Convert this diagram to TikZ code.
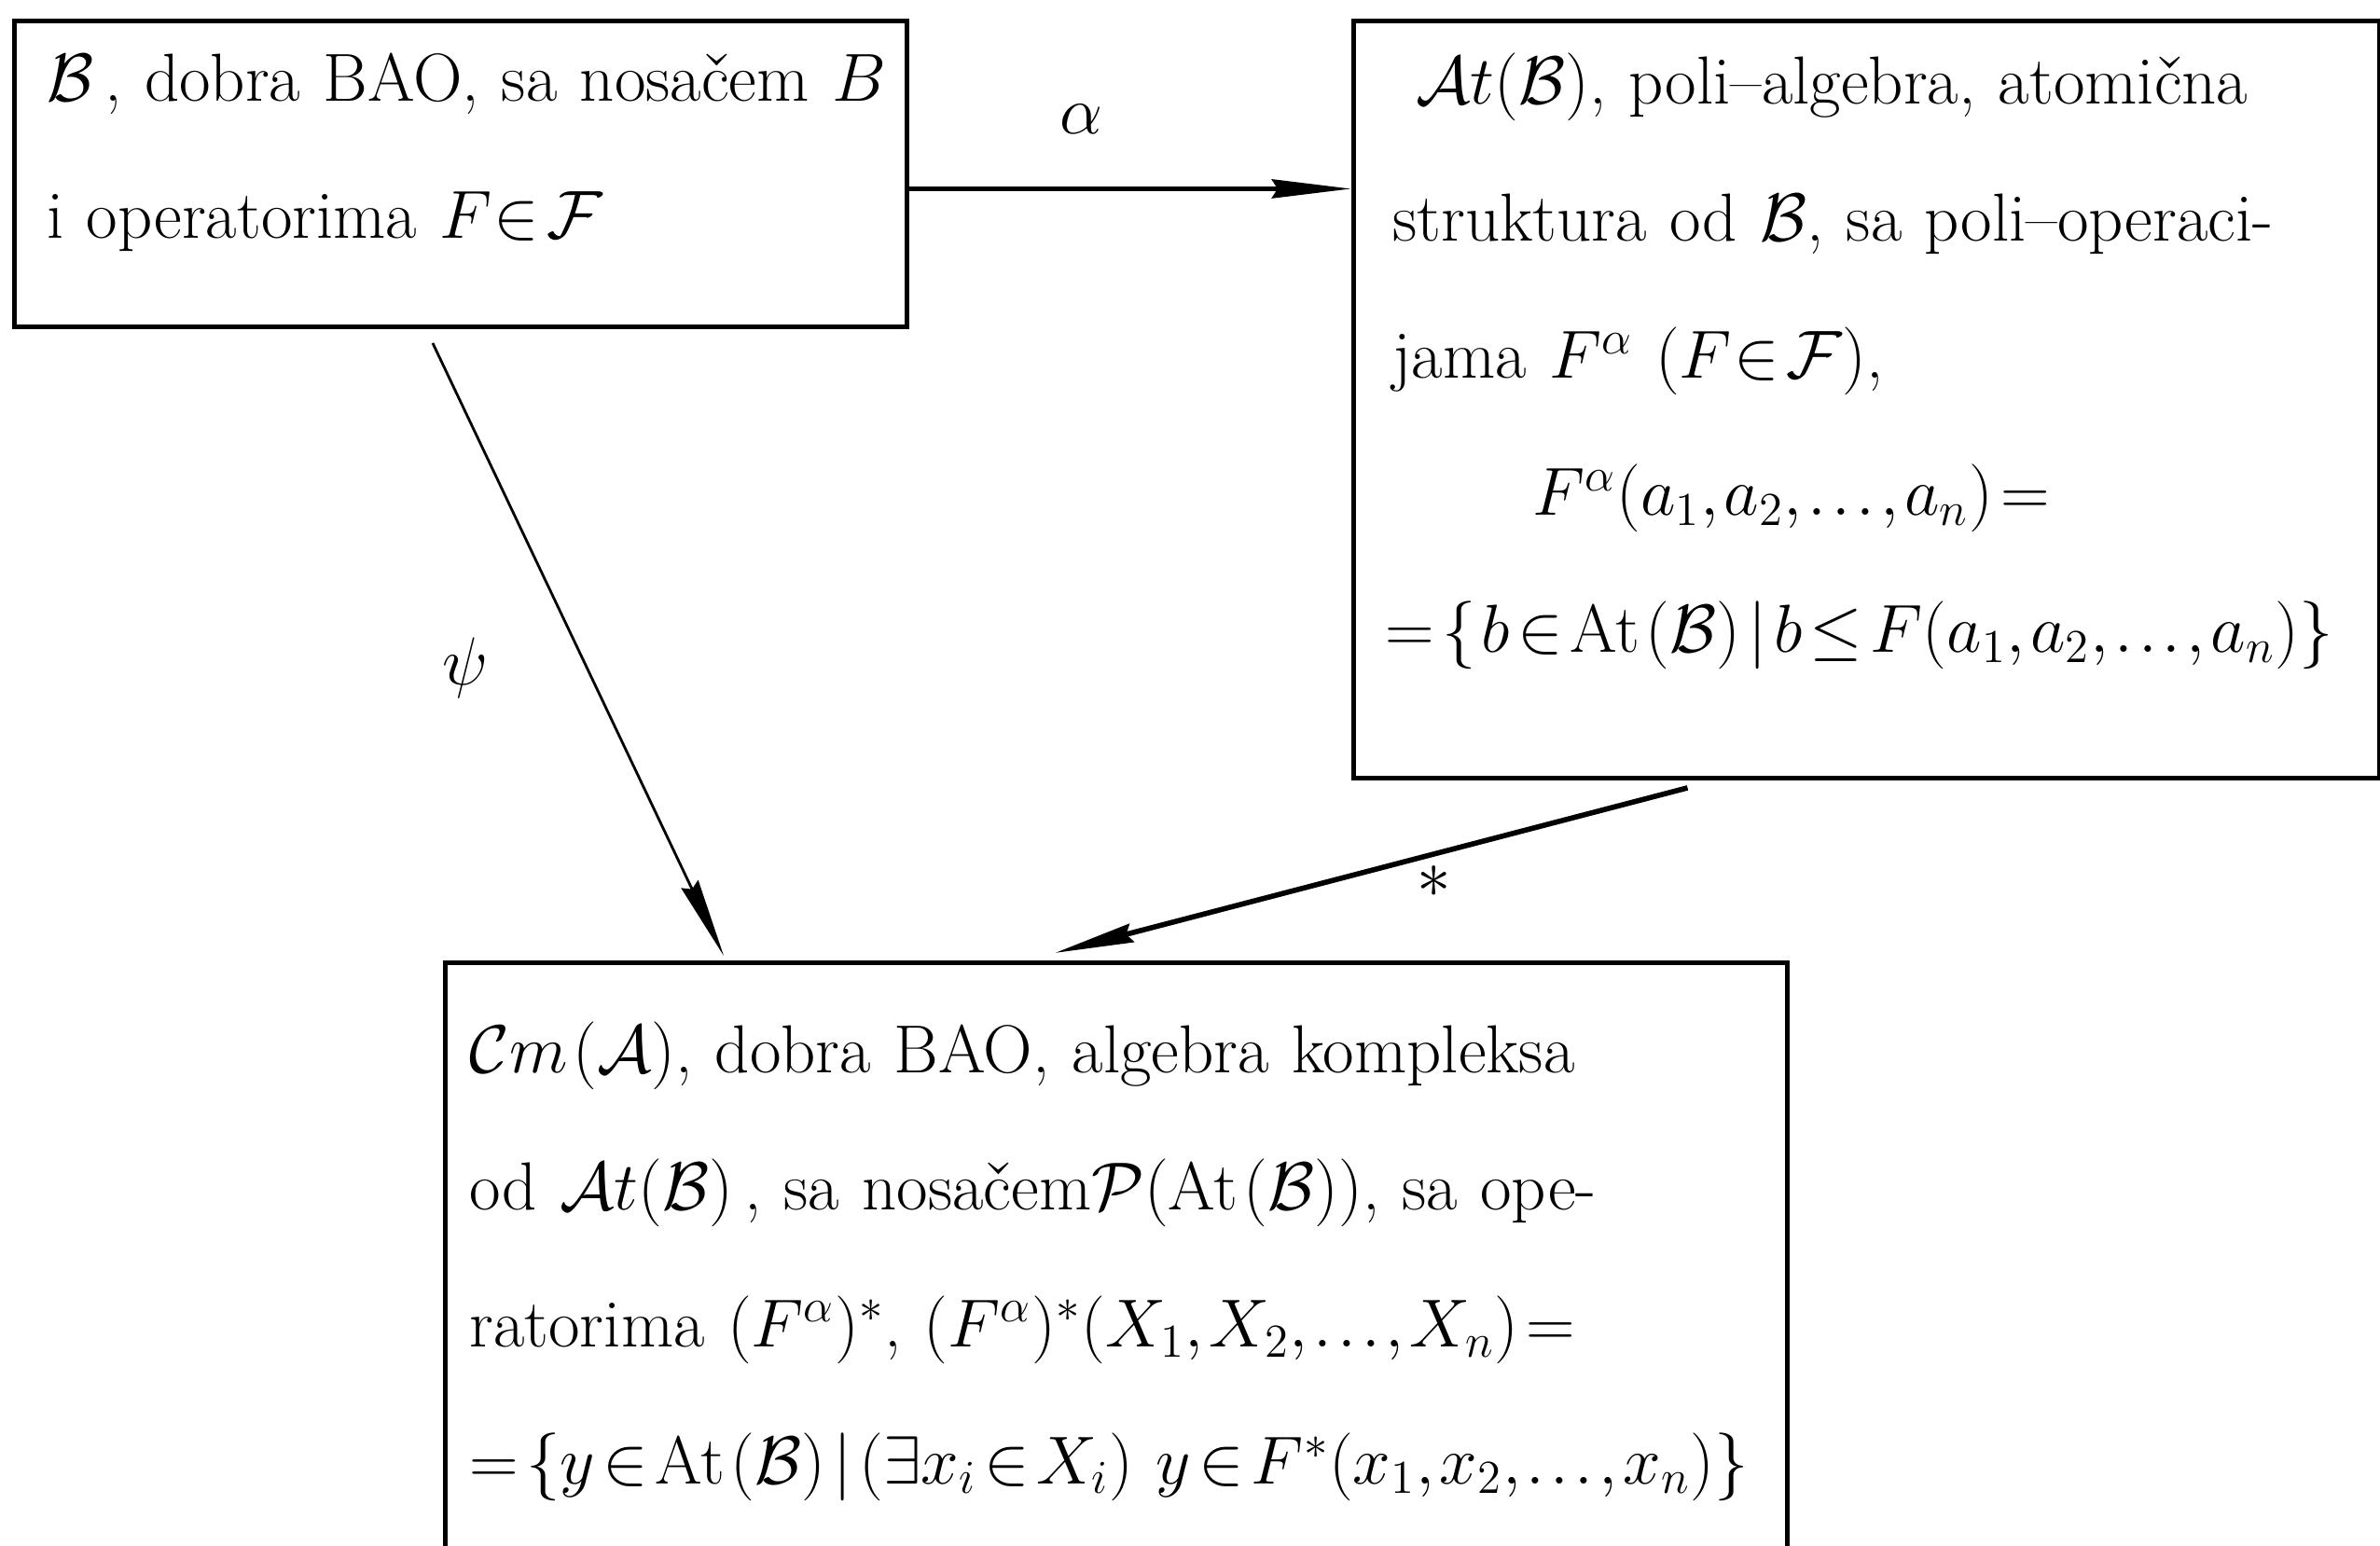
\documentclass[tikz,border=0pt]{standalone}
\usepackage{amsmath}
\usepackage{amssymb}
\usepackage{tikz}
\usetikzlibrary{arrows.meta,positioning}
\newcommand{\cB}{\mathcal{B}}
\newcommand{\sF}{\mathcal{F}}
\newcommand{\cAt}{\mathcal{A}t}
\newcommand{\lift}[1]{\par\vspace*{#1}\hrule height 0pt}

\begin{document}
\begin{tikzpicture}[
  font={\fontsize{20.74}{41.8}\selectfont\thickmuskip=2mu plus 2mu\medmuskip=1mu plus 1mu\thinmuskip=1.5mu\relax},
  box/.style={rectangle, draw=black, line width=1.4pt, anchor=north west,
    align=left, inner ysep=0pt},
  arr/.style={-{Stealth[length=8.5mm, width=2mm, inset=0.6mm]}, line width=1.6pt},
  thinarr/.style={arr, line width=0.8pt},
]
\useasboundingbox (0,0) rectangle (25.52,-16.57);
\node[box, inner xsep=1.6mm, text width=92.5mm, minimum height=32.8mm] (bao) at (0.13,-0.20)
  {\hspace*{1.9mm}$\cB$\,, dobra BAO, sa nosačem $B$\\
   \hspace*{1.9mm}i operatorima $F\!\in\sF$\lift{4.6mm}};
\node[box, inner xsep=3mm, text width=104mm, minimum height=81.2mm] (atstr) at (14.49,-0.20)
  {\hspace*{3.7mm}$\cAt(\cB)$, poli--algebra, atomična\\
   \hspace*{1.2mm}struktura od $\cB$, sa poli--operaci-\\
   \hspace*{1.2mm}jama $F^{\alpha}$ $(F\!\in\sF)$,\\
   \hspace*{16.2mm}$F^{\alpha}(a_1,a_2,\dots,a_n)=$\\
   \hspace*{0.4mm}$=\{\,b\in\mathrm{At}\,(\cB)\mid b\le F(a_1,a_2,\dots,a_n)\}$\lift{8.2mm}};
\node[box, inner xsep=2.6mm, text width=138.7mm, minimum height=64mm] (cmalg) at (4.75,-10.30)
  {$\mathcal{C}m\,(\mathcal{A})$, dobra BAO, algebra kompleksa\\
   od $\cAt(\cB)$\,, sa nosačem$\mathcal{P}(\mathrm{At}\,(\cB))$, sa ope-\\
   ratorima $(F^{\alpha})^*$, $(F^{\alpha})^*(X_1,X_2,\dots,X_n)=$\\
   $=\{y\in\mathrm{At}\,(\cB)\mid(\exists x_i\in X_i)\ y\in F^*(x_1,x_2,\dots,x_n)\}$};
% connectors
\coordinate (aout) at ([yshift=-1.6mm]bao.east);
\draw[arr] (aout) -- (aout -| atstr.west) node[pos=0.39, yshift=7.5mm] {$\alpha$};
\draw[thinarr] ([shift={(-0.3,-0.15)}]bao.south) -- ([shift={(3.01,0.05)}]cmalg.north west)
  node[pos=0.53, xshift=-13mm] {$\psi$};
\draw[arr] ([shift={(-1.92,-0.08)}]atstr.south) -- ([shift={(6.56,0.08)}]cmalg.north west)
  node[pos=0.40, yshift=-3mm] {$*$};
\end{tikzpicture}
\end{document}
